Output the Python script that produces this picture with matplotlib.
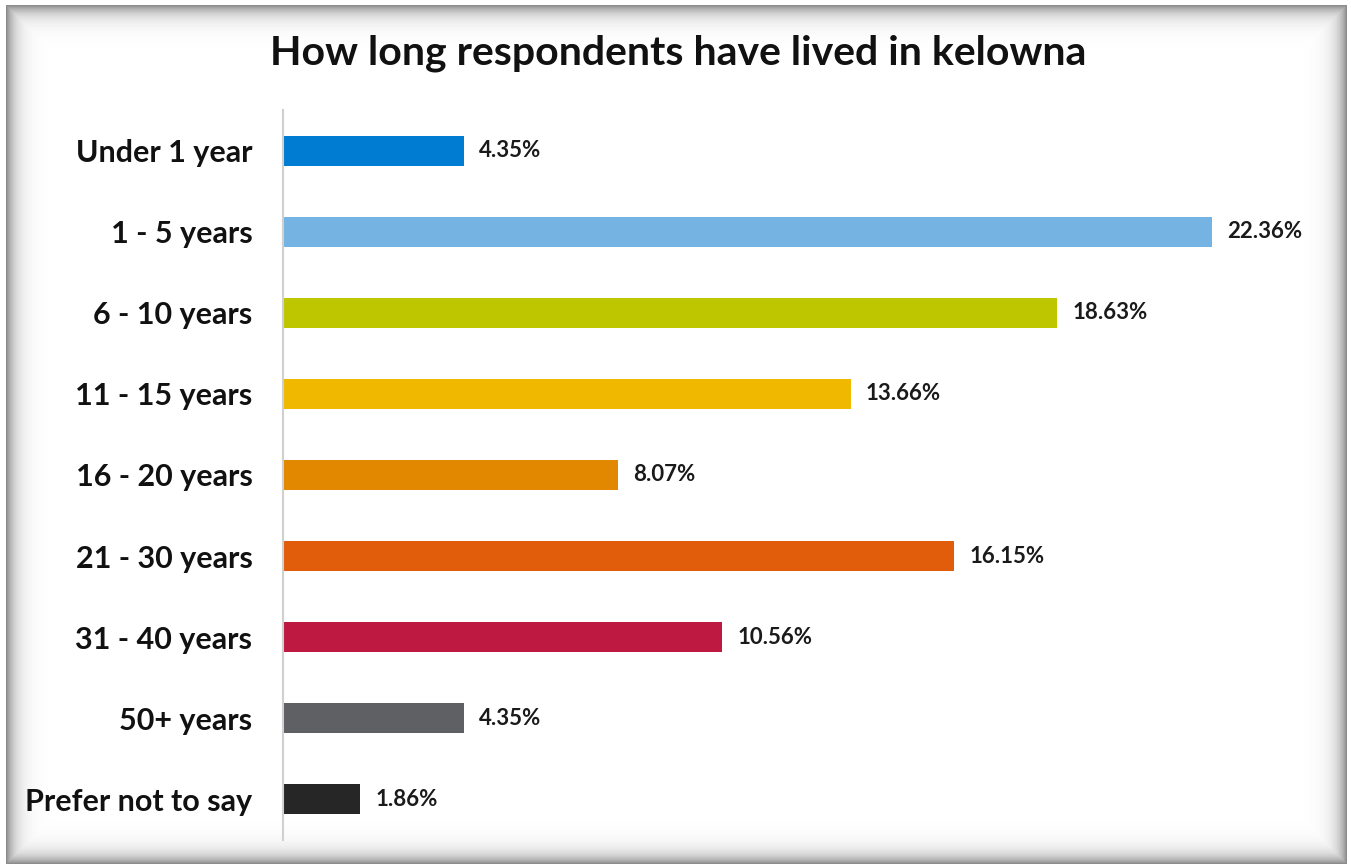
import matplotlib.pyplot as plt
import numpy as np

# Данные опроса
categories = ["Under 1 year", "1 - 5 years", "6 - 10 years", "11 - 15 years",
              "16 - 20 years", "21 - 30 years", "31 - 40 years", "50+ years",
              "Prefer not to say"]
shares = [4.35, 22.36, 18.63, 13.66, 8.07, 16.15, 10.56, 4.35, 1.86]
colors = ["#007DD3", "#74B3E2", "#BEC600", "#F1B800", "#E28700",
          "#E15D0B", "#BE1940", "#5F6064", "#262626"]

W, H = 1351, 865
fig = plt.figure(figsize=(W / 100, H / 100), dpi=100)

# Рамка с "фаской": серый край, плавно переходящий в белый
bg = fig.add_axes([0, 0, 1, 1])
xx, yy = np.meshgrid(np.arange(W), np.arange(H))
x0, x1, y0, y1 = 6, 1346, 5, 863
d = np.minimum.reduce([xx - x0, x1 - xx, yy - y0, y1 - yy]).astype(float)
shade = 0.55 + 0.45 * (1 - np.exp(-np.clip(d, 0, None) / 9.0))
shade[d < 0] = 1.0
bg.imshow(shade, cmap="gray", vmin=0, vmax=1, extent=[0, W, H, 0],
          interpolation="bilinear")
bg.set_xlim(0, W)
bg.set_ylim(H, 0)
bg.axis("off")

fig.text(678 / W, 1 - 53 / H, "How long respondents have lived in kelowna",
         ha="center", va="center", fontsize=29.5, fontweight="bold",
         family="Lato", color="#111111")

# Основная диаграмма
left, right, top, bottom = 283, 1300, 110, 840
ax = fig.add_axes([left / W, 1 - bottom / H, (right - left) / W, (bottom - top) / H])
ax.patch.set_alpha(0)
y = np.arange(len(categories))
ax.barh(y, shares, height=0.37, color=colors)
ax.set_xlim(0, (right - left) / 41.55)
ax.set_ylim(len(categories) - 0.5, -0.5)
ax.set_yticks(y, categories)
ax.tick_params(axis="y", length=0, pad=22)
ax.tick_params(axis="x", bottom=False, labelbottom=False)
for lbl in ax.get_yticklabels():
    lbl.set(fontsize=22, fontweight="bold", family="Lato", color="#111111")
for s in ["top", "right", "bottom"]:
    ax.spines[s].set_visible(False)
ax.spines["left"].set(color="#D0D0D0", linewidth=1.5)

for yi, v in zip(y, shares):
    ax.annotate(f"{v:.2f}%", (v, yi), xytext=(11, 0), textcoords="offset points",
                ha="left", va="center", fontsize=16, fontweight="bold",
                family="Lato", color="#1A1A1A")

fig.savefig("out.png", dpi=100)
